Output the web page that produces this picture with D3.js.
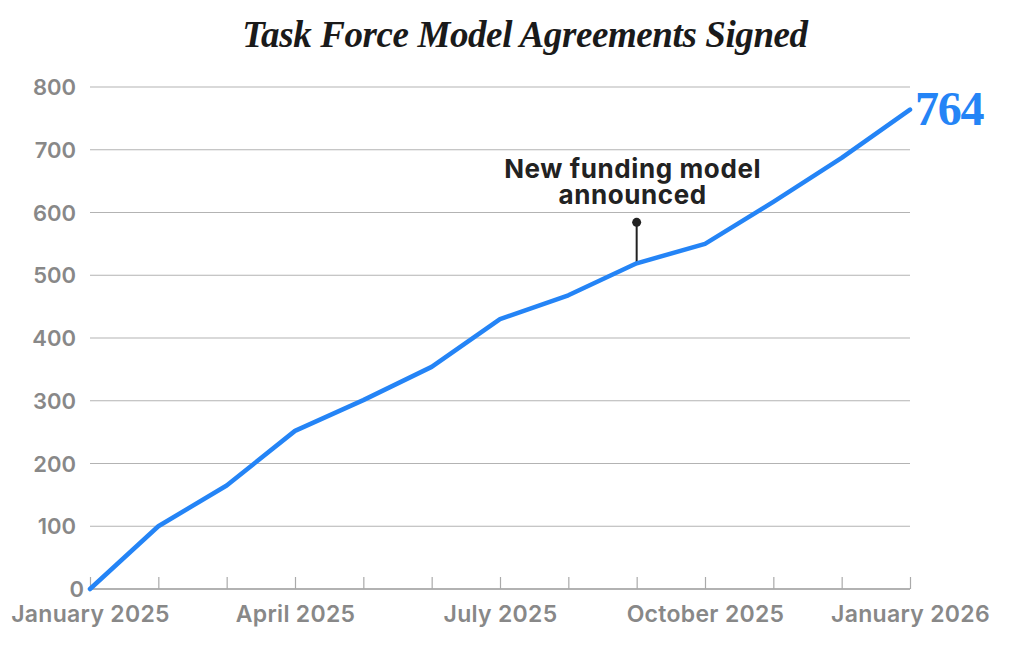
<!DOCTYPE html>
<html>
<head>
<meta charset="utf-8">
<script src="https://cdn.jsdelivr.net/npm/d3@7"></script>
<style>
  html, body { margin: 0; padding: 0; background: #fff; }
  svg { display: block; overflow: hidden; }
</style>
</head>
<body>
<svg id="chart" width="1014" height="654"></svg>
<script>
const months = ["Jan 2025","Feb 2025","Mar 2025","Apr 2025","May 2025","Jun 2025","Jul 2025","Aug 2025","Sep 2025","Oct 2025","Nov 2025","Dec 2025","Jan 2026"];
const agreements = [0, 100, 165, 252, 301, 354, 430, 468, 519, 550, 617, 687, 764];
const xTickLabels = ["January 2025", null, null, "April 2025", null, null, "July 2025", null, null, "October 2025", null, null, "January 2026"];
const yTicks = [0, 100, 200, 300, 400, 500, 600, 700, 800];
const annotationMonth = "Sep 2025";
const annotationLines = ["New funding model", "announced"];
const titleText = "Task Force Model Agreements Signed";

const svg = d3.select("#chart");
const margin = { left: 90, right: 910, top: 87, bottom: 589 };

const x = d3.scalePoint().domain(months).range([margin.left, margin.right]);
const y = d3.scaleLinear().domain([0, 800]).range([margin.bottom, margin.top]);

const sansFont = "Inter, 'Liberation Sans', sans-serif";
const serifFont = "'Liberation Serif', 'DejaVu Serif', serif";

// Title
svg.append("text")
  .attr("x", 525).attr("y", 47)
  .attr("text-anchor", "middle")
  .attr("font-family", serifFont)
  .attr("font-weight", "bold")
  .attr("font-style", "italic")
  .attr("font-size", 37)
  .attr("letter-spacing", -0.4)
  .attr("fill", "#1a1a1a")
  .text(titleText);

// Gridlines
svg.append("g")
  .selectAll("line")
  .data(yTicks.filter(d => d > 0))
  .join("line")
  .attr("x1", margin.left).attr("x2", margin.right)
  .attr("y1", d => y(d)).attr("y2", d => y(d))
  .attr("stroke", "#b3b3b3")
  .attr("stroke-width", 1.2);

// Y axis labels
const yAxis = d3.axisLeft(y).tickValues(yTicks).tickSize(0).tickPadding(0);
const gy = svg.append("g").attr("transform", `translate(${margin.left},0)`).call(yAxis);
gy.select(".domain").remove();
gy.selectAll("text")
  .attr("x", d => d === 0 ? -6 : -14)
  .attr("dy", "0.35em")
  .attr("font-family", sansFont)
  .attr("font-weight", 600)
  .attr("font-size", 22)
  .attr("fill", "#888");

// X axis
const xAxis = d3.axisBottom(x).tickSize(-12).tickPadding(17)
  .tickFormat((d, i) => xTickLabels[i] || "");
const gx = svg.append("g").attr("transform", `translate(0,${margin.bottom})`).call(xAxis);
gx.select(".domain").attr("stroke", "#999").attr("stroke-width", 1.5).attr("d", `M${margin.left},0H${margin.right}`);
gx.selectAll(".tick line").attr("stroke", "#aaa").attr("stroke-width", 1.2);
gx.selectAll("text")
  .attr("font-family", sansFont)
  .attr("font-weight", 600)
  .attr("font-size", 23)
  .attr("letter-spacing", 0.3)
  .attr("fill", "#888");

// Annotation
const ax = x(annotationMonth);
const ay = y(agreements[months.indexOf(annotationMonth)]);
svg.append("line")
  .attr("x1", ax).attr("x2", ax)
  .attr("y1", ay).attr("y2", ay - 41)
  .attr("stroke", "#222").attr("stroke-width", 2);
svg.append("circle")
  .attr("cx", ax).attr("cy", ay - 41).attr("r", 4.5)
  .attr("fill", "#222");
const at = svg.append("text")
  .attr("text-anchor", "middle")
  .attr("font-family", sansFont)
  .attr("font-weight", 700)
  .attr("font-size", 26)
  .attr("letter-spacing", 0.6)
  .attr("fill", "#222");
annotationLines.forEach((t, i) => {
  at.append("tspan").attr("x", ax - 4).attr("y", 178 + i * 26).text(t);
});

// Line
const line = d3.line().x((d, i) => x(months[i])).y(d => y(d));
svg.append("path")
  .datum(agreements)
  .attr("d", line)
  .attr("fill", "none")
  .attr("stroke", "#2484f6")
  .attr("stroke-width", 4.5)
  .attr("stroke-linejoin", "round")
  .attr("stroke-linecap", "round");

// End label
const last = agreements[agreements.length - 1];
svg.append("text")
  .attr("x", x(months[months.length - 1]) + 5)
  .attr("y", y(last) + 15)
  .attr("font-family", serifFont)
  .attr("font-weight", "bold")
  .attr("font-size", 48)
  .attr("letter-spacing", -1.2)
  .attr("fill", "#2484f6")
  .text(last);
</script>
</body>
</html>
